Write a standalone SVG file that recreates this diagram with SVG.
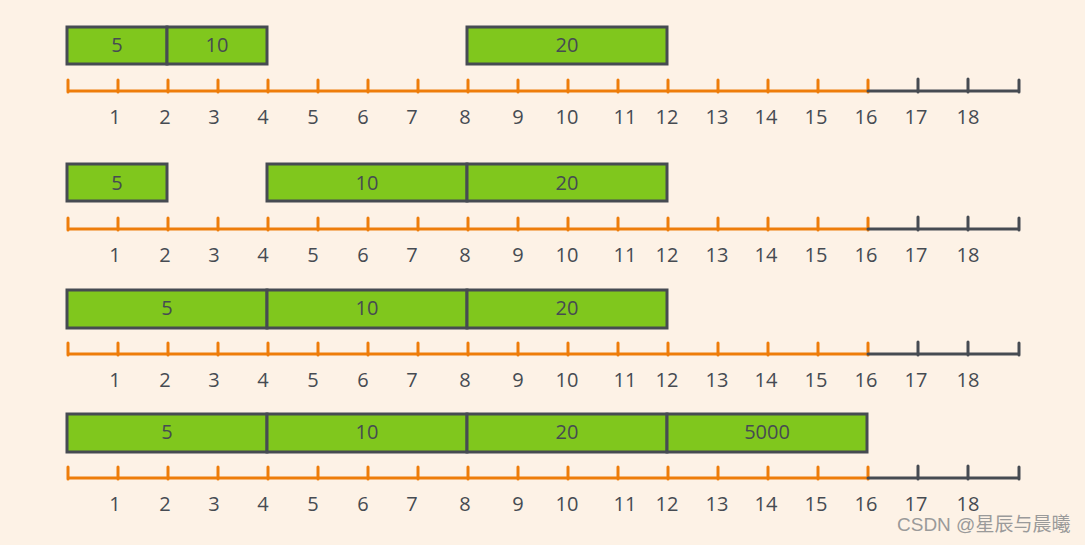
<svg xmlns="http://www.w3.org/2000/svg" xmlns:xlink="http://www.w3.org/1999/xlink" width="1085" height="545" viewBox="0 0 1085 545">
<style>
.bg{fill:#fdf2e6}
.box rect{fill:#80c71d;stroke:#464b52;stroke-width:3}
.box text,.lbl text{font-family:"Open Sans","Liberation Sans",sans-serif;font-size:20px;fill:#464b52;text-anchor:middle}
.or{stroke:#ee7d0a;stroke-width:3;fill:none;stroke-linecap:round}
.gr{stroke:#464b52;stroke-width:3;fill:none;stroke-linecap:round}
.wm{font-family:"Liberation Sans","Noto Sans CJK SC",sans-serif;font-size:19px;fill:#9a9a9a}
</style>
<defs>
<g id="ruler">
<path class="or" d="M68,91 L868,91 M68,80 V92 M118,80 V92 M168,80 V92 M218,80 V92 M268,80 V92 M318,80 V92 M368,80 V92 M418,80 V92 M468,80 V92 M518,80 V92 M568,80 V92 M618,80 V92 M668,80 V92 M718,80 V92 M768,80 V92 M818,80 V92 M868,80 V92"/>
<path class="gr" d="M868,91 L1019,91 M918,79 V92 M968,79 V92 M1019,80 V92"/>
<g class="lbl">
<text x="115" y="124">1</text><text x="165" y="124">2</text><text x="214" y="124">3</text><text x="263" y="124">4</text><text x="313" y="124">5</text><text x="363" y="124">6</text><text x="412" y="124">7</text><text x="465" y="124">8</text><text x="518" y="124">9</text><text x="567" y="124">10</text><text x="625" y="124">11</text><text x="667" y="124">12</text><text x="717" y="124">13</text><text x="766" y="124">14</text><text x="816" y="124">15</text><text x="866" y="124">16</text><text x="916" y="124">17</text><text x="968" y="124">18</text>
</g>
</g>
</defs>
<rect class="bg" width="1085" height="545"/>
<g id="connectors">
<use xlink:href="#ruler"/>
<use xlink:href="#ruler" transform="translate(0,138)"/>
<use xlink:href="#ruler" transform="translate(0,263)"/>
<use xlink:href="#ruler" transform="translate(0,387)"/>
</g>
<g id="row1">
<g id="r1-5" class="box"><rect x="67" y="27" width="100" height="37"/><text x="117" y="52">5</text></g>
<g id="r1-10" class="box"><rect x="167" y="27" width="100" height="37"/><text x="217" y="52">10</text></g>
<g id="r1-20" class="box"><rect x="467" y="27" width="200" height="37"/><text x="567" y="52">20</text></g>
</g>
<g id="row2">
<g id="r2-5" class="box"><rect x="67" y="164" width="100" height="37"/><text x="117" y="190">5</text></g>
<g id="r2-10" class="box"><rect x="267" y="164" width="200" height="37"/><text x="367" y="190">10</text></g>
<g id="r2-20" class="box"><rect x="467" y="164" width="200" height="37"/><text x="567" y="190">20</text></g>
</g>
<g id="row3">
<g id="r3-5" class="box"><rect x="67" y="290" width="200" height="38"/><text x="167" y="315">5</text></g>
<g id="r3-10" class="box"><rect x="267" y="290" width="200" height="38"/><text x="367" y="315">10</text></g>
<g id="r3-20" class="box"><rect x="467" y="290" width="200" height="38"/><text x="567" y="315">20</text></g>
</g>
<g id="row4">
<g id="r4-5" class="box"><rect x="67" y="414" width="200" height="38"/><text x="167" y="439">5</text></g>
<g id="r4-10" class="box"><rect x="267" y="414" width="200" height="38"/><text x="367" y="439">10</text></g>
<g id="r4-20" class="box"><rect x="467" y="414" width="200" height="38"/><text x="567" y="439">20</text></g>
<g id="r4-5000" class="box"><rect x="667" y="414" width="200" height="38"/><text x="767" y="439">5000</text></g>
</g>
<text class="wm" x="897" y="531">CSDN @星辰与晨曦</text>
</svg>
